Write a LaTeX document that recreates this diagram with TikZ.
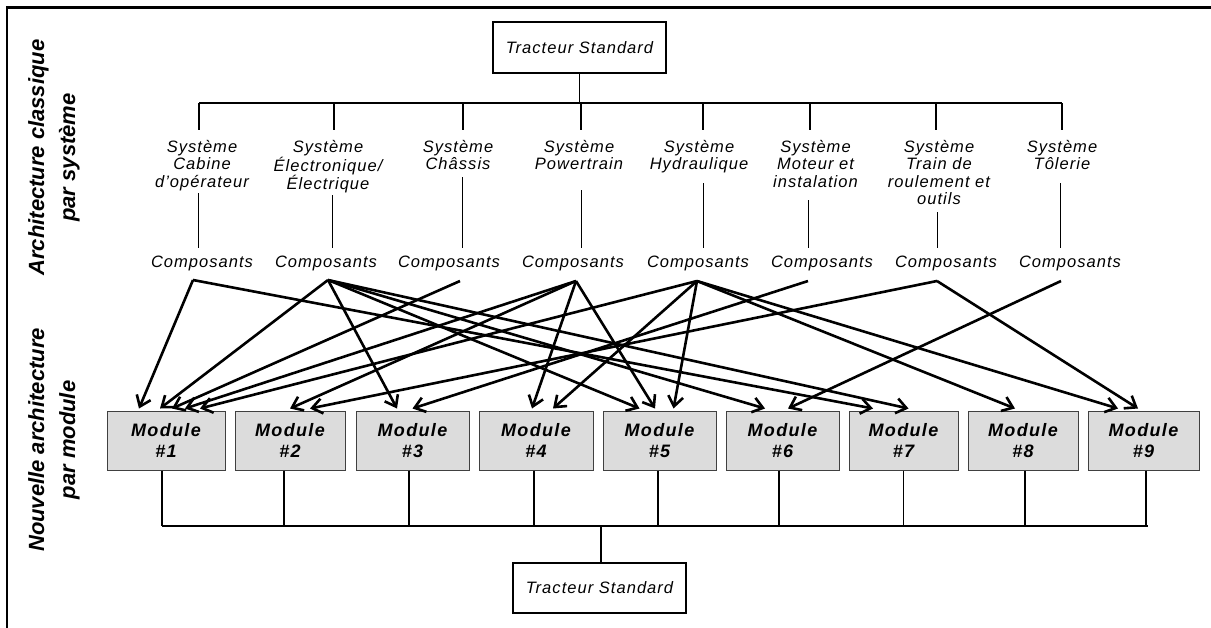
\documentclass[tikz,border=0pt]{standalone}
\usepackage{fontspec}
\setmainfont{Liberation Sans}
\newfontfamily\sysfont[LetterSpace=6.3]{Liberation Sans}
\newfontfamily\modfont[LetterSpace=7.4]{Liberation Sans}
\usetikzlibrary{arrows.meta}
\definecolor{modgray}{RGB}{220,220,220}
\begin{document}
\begin{tikzpicture}[x=1pt,y=-1pt,
  systxt/.style={font={\fontsize{16.5}{17.5}\sysfont\itshape}, align=center, inner sep=0pt, anchor=north},
  comptxt/.style={font={\fontsize{16.5}{17.5}\sysfont\itshape}, inner sep=0pt, anchor=base},
  tbox/.style={draw, line width=2.2pt, minimum width=173pt, minimum height=51pt, inner sep=0pt, font={\fontsize{16.5}{17.5}\sysfont\itshape}},
  module/.style={draw=black!75, line width=1pt, fill=modgray, minimum height=59pt, inner sep=0pt, align=center, font={\fontsize{18}{21}\modfont\bfseries\itshape}},
  sidelabel/.style={rotate=90, align=center, inner sep=0pt, font={\fontsize{22}{31}\selectfont\bfseries\itshape}},
  tree/.style={line width=1.3pt},
  mline/.style={line width=1.6pt},
  arr/.style={line width=2.6pt, -{Straight Barb[length=10pt,width=15pt]}}
]
\useasboundingbox (0,0) rectangle (1211,627);
% frame
\draw[line width=2.5pt] (7,640) -- (7,7.5) -- (1225,7.5);

% side labels
\node[sidelabel] (lab1) at (54,157.5) {Architecture classique\\par système};
\node[sidelabel] (lab2) at (54,440) {Nouvelle architecture\\par module};

% top box
\node[tbox] (top) at (579.5,47.5) {Tracteur Standard};

% systems
\node[systxt] (sys1) at (202,140) {Système\\Cabine\\d’opérateur};
\node[systxt] (sys2) at (328,140) {Système\\Électronique/\\Électrique};
\node[systxt] (sys3) at (458,140) {Système\\Châssis};
\node[systxt] (sys4) at (579,140) {Système\\Powertrain};
\node[systxt] (sys5) at (699,140) {Système\\Hydraulique};
\node[systxt] (sys6) at (815.5,140) {Système\\Moteur et\\instalation};
\node[systxt] (sys7) at (939,140) {Système\\Train de\\roulement et\\outils};
\node[systxt] (sys8) at (1062,140) {Système\\Tôlerie};

% composants
\foreach \i/\cx in {1/202,2/326,3/449,4/573,5/698,6/822,7/946,8/1070}
  \node[comptxt] (comp\i) at (\cx,267) {Composants};

% upper tree
\coordinate (bus) at (0,103);
\foreach \i/\dx in {1/199,2/334,3/463,4/581,5/703,6/810,7/936,8/1062}
  \coordinate (d\i) at (\dx,103);
\draw[tree] (top.south) -- (top.south |- bus);
\draw[tree] (d1) -- (d8);
\foreach \i in {1,...,8}
  \draw[tree] (d\i) -- ++(0,27);

% system to composants lines
\foreach \i/\lx/\ly in {1/198/193,2/332/195,3/462/177,4/581/190,5/703/183,6/808/200,7/937/212,8/1060/183}{
  \coordinate (u\i) at (\lx,\ly);
  \draw[line width=1pt] (u\i) -- (\lx,248);
}

% modules
\foreach \n/\cx/\w in {1/166/118, 2/290/110, 3/412.5/113, 4/536/114, 5/659.5/113, 6/782.5/113, 7/903.5/109, 8/1023/110, 9/1143.5/111}
  \node[module, minimum width=\w pt] (m\n) at (\cx,440.5) {Module\\\#\n};

% bottom box
\node[tbox, minimum height=50pt] (bot) at (599.5,588) {Tracteur Standard};

% lower tree
\coordinate (mb) at (0,526);
\foreach \n/\o in {1/-4,2/-6,3/-3.5,4/-2,5/-1.5,6/-3.5,7/0,8/2,9/2.5}
  \draw[mline] ([xshift=\o pt]m\n.south) -- ([xshift=\o pt]m\n.south |- mb);
\draw[mline] ([xshift=-4pt]m1.south |- mb) -- ([xshift=4.5pt]m9.south |- mb);
\draw[mline] ([xshift=1.5pt]bot.north) -- ([xshift=1.5pt]bot.north |- mb);

% arrow sources
\coordinate (s1) at (193,280);
\coordinate (s2) at (328,280);
\coordinate (s3) at (460,281);
\coordinate (s4) at (576,281);
\coordinate (s5) at (697,281);
\coordinate (s6) at (808,281);
\coordinate (s7) at (937,281);
\coordinate (s8) at (1061,281);

\foreach \s/\m/\dx in {s1/m1/-27, s1/m7/-30.5, s2/m1/-6, s2/m3/-15.5, s2/m5/-20, s2/m6/-17.5, s2/m7/5, s3/m1/6, s4/m1/19, s4/m2/0, s4/m4/-4, s4/m5/-4.5, s5/m1/34, s5/m4/17, s5/m5/14, s5/m8/-8, s5/m9/-25.5, s6/m3/0, s7/m2/20, s7/m9/-5.5, s8/m6/5.5}
  \draw[arr] (\s) -- ([xshift=\dx pt, yshift=2pt]\m.north);
\end{tikzpicture}
\end{document}
